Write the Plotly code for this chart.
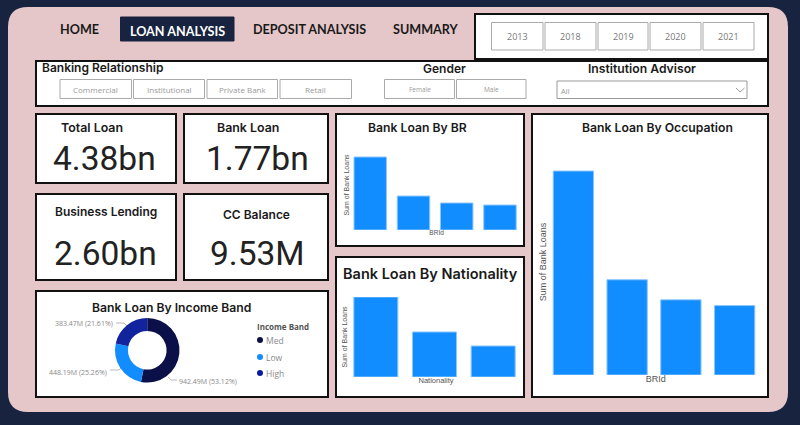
import plotly.graph_objects as go

W, H = 800, 425

# ---- data ----
nav_labels = ["HOME", "LOAN ANALYSIS", "DEPOSIT ANALYSIS", "SUMMARY"]
years = ["2013", "2018", "2019", "2020", "2021"]
relationships = ["Commercial", "Institutional", "Private Bank", "Retail"]
genders = ["Female", "Male"]
kpi_titles = ["Total Loan", "Bank Loan", "Business Lending", "CC Balance"]
kpi_values = ["4.38bn", "1.77bn", "2.60bn", "9.53M"]

br_ids = ["BR1", "BR2", "BR3", "BR4"]
br_loans = [813, 378, 301, 278]
nationalities = ["N1", "N2", "N3"]
nationality_loans = [908, 511, 352]
occupations = ["O1", "O2", "O3", "O4"]
occupation_loans = [814, 380, 300, 277]

income_bands = ["Med", "Low", "High"]
income_loans = [942.49, 448.19, 383.47]
income_pct = ["53.12%", "25.26%", "21.61%"]
income_colors = ["#0B1048", "#118DFF", "#12239E"]

NAVY = "#18233F"
PINK = "#E6C7C9"
BLUE = "#118DFF"
GREY = "#8A8A8A"
INK = "#1A1A1A"


def px(x):
    return x / W


def py(y):
    return 1 - y / H


shapes = []
annotations = []


def rect(x0, y0, x1, y1, fill="white", line="#111111", width=2):
    shapes.append(dict(type="rect", xref="paper", yref="paper", layer="below",
                       x0=px(x0), x1=px(x1), y0=py(y1), y1=py(y0),
                       fillcolor=fill, line=dict(color=line, width=width)))


def path(points, color="#BBBBBB", width=1):
    d = "M " + " L ".join(f"{px(a):.5f},{py(b):.5f}" for a, b in points)
    shapes.append(dict(type="path", xref="paper", yref="paper", layer="below", path=d,
                       line=dict(color=color, width=width)))


def text(s, x, y, size, color=INK, family="Inter", weight=400, anchor="center"):
    annotations.append(dict(text=s, x=px(x), y=py(y), xref="paper", yref="paper",
                            xanchor=anchor, yanchor="middle", showarrow=False,
                            borderpad=0, borderwidth=0,
                            font=dict(family=family, size=size, color=color, weight=weight)))


# ---- page ----
r = 20
L, T, R, B = 8, 7, 788, 412
page = (f"M {px(L + r)},{py(T)} L {px(R - r)},{py(T)} Q {px(R)},{py(T)} {px(R)},{py(T + r)} "
        f"L {px(R)},{py(B - r)} Q {px(R)},{py(B)} {px(R - r)},{py(B)} "
        f"L {px(L + r)},{py(B)} Q {px(L)},{py(B)} {px(L)},{py(B - r)} "
        f"L {px(L)},{py(T + r)} Q {px(L)},{py(T)} {px(L + r)},{py(T)} Z")
shapes.append(dict(type="path", xref="paper", yref="paper", layer="below", path=page,
                   fillcolor=PINK, line=dict(width=0)))

# ---- navigation ----
rect(120.5, 17, 234, 41, fill=NAVY, line=NAVY, width=1)
for label, x, y, col in zip(nav_labels, [79, 177.5, 309, 425], [29, 31, 29, 29],
                            [INK, "white", INK, INK]):
    text(label, x, y, 12.6, color=col, family="Lato", weight=700)

# ---- year slicer ----
rect(475, 14, 768, 59)
for label, x0, x1 in zip(years, [491.5, 545, 598, 650, 703], [543, 596, 648, 701, 754]):
    rect(x0, 22.5, x1, 50, line="#AAAAAA", width=1)
    text(label, (x0 + x1) / 2, 36.5, 9, color="#777777", family="Open Sans")

# ---- filter strip ----
rect(36, 61, 768, 106)
text("Banking Relationship", 42, 67, 12, family="Inter", weight=600, anchor="left")
text("Gender", 444, 68, 12, family="Inter", weight=600)
text("Institution Advisor", 642, 68, 12.2, family="Inter", weight=600)
for label, x0, x1 in zip(relationships, [60, 133.5, 207, 280], [131.5, 204.5, 277.5, 351.5]):
    rect(x0, 79.5, x1, 98.5, line="#AAAAAA", width=1)
    text(label, (x0 + x1) / 2, 89, 8, color="#999999", family="Open Sans")
for label, x0, x1 in zip(genders, [384.5, 456.5], [454.5, 526]):
    rect(x0, 79.5, x1, 98.5, line="#AAAAAA", width=1)
    text(label, (x0 + x1) / 2, 89, 6.5, color="#999999", family="Open Sans")
rect(557, 81, 747, 98.5, line="#999999", width=1)
text("All", 561, 91, 7.5, color="#999999", family="Open Sans", anchor="left")
path([(736, 88), (740, 92), (744.5, 88)], color="#999999")

# ---- KPI cards ----
kpi_boxes = [(36, 114, 176, 183), (184, 114, 328, 183), (36, 194, 176, 280), (184, 194, 328, 280)]
kpi_title_pos = [(92, 127), (248, 127), (106, 211), (256, 214)]
kpi_title_size = [12.4, 12.4, 12, 12]
kpi_value_pos = [(104, 158), (257, 158), (105, 253), (257, 253)]
for box in kpi_boxes:
    rect(*box)
for s, p, z in zip(kpi_titles, kpi_title_pos, kpi_title_size):
    text(s, p[0], p[1], z, family="Inter", weight=600)
for s, p in zip(kpi_values, kpi_value_pos):
    text(s, p[0], p[1], 33.5, family="Roboto", color="#222222")

# ---- panels ----
rect(36, 291, 328, 397)
rect(336, 114, 524, 246)
rect(336, 257, 524, 397)
rect(532, 114, 768, 397)
text("Bank Loan By BR", 417, 127, 12.2, family="Inter", weight=600)
text("Bank Loan By Nationality", 431, 273, 14.5, family="Inter", weight=600)
text("Bank Loan By Occupation", 657.5, 127, 12.2, family="Inter", weight=600)
text("Bank Loan By Income Band", 171, 307, 12.2, family="Inter", weight=600)

fig = go.Figure()


def add_bars(idx, cats, vals, box, headroom, xtitle, ytitle, ysize, xsize, shift):
    x0, x1, top, bottom = box
    pitch = (x1 - x0) / len(cats)
    xa, ya = f"xaxis{idx}", f"yaxis{idx}"
    fig.add_trace(go.Bar(x=cats, y=vals, xaxis=f"x{idx}", yaxis=f"y{idx}", width=0.75,
                         marker=dict(color=BLUE, line=dict(color="#8CC6FF", width=1)),
                         showlegend=False))
    fig.update_layout({
        xa: dict(domain=[px(x0 + shift), px(x1)], anchor=f"y{idx}", showticklabels=False,
                 showgrid=False, zeroline=False, ticks="", showline=False,
                 range=[-0.5 + shift / pitch, len(cats) - 0.5],
                 title=dict(text=xtitle, standoff=0,
                            font=dict(size=xsize, color="#555555", family="Liberation Sans"))),
        ya: dict(domain=[py(bottom), py(top)], anchor=f"x{idx}", range=[0, max(vals) * headroom],
                 showticklabels=False, showgrid=False, zeroline=False, ticks="", showline=False,
                 title=dict(text=ytitle, standoff=0,
                            font=dict(size=ysize, color="#555555", family="Liberation Sans"))),
    })


add_bars(2, br_ids, br_loans, (348.6, 521.6, 140, 230), 90 / 73, "BRId", "Sum of Bank Loans", 7, 6.5, 3)
add_bars(3, nationalities, nationality_loans, (346.5, 522.5, 297, 377), 1.0, "Nationality", "Sum of Bank Loans", 7, 7.5, 3)
add_bars(4, occupations, occupation_loans, (546.5, 761.5, 149, 375), 226 / 204, "BRId", "Sum of Bank Loans", 9, 9, 3.5)

# ---- donut ----
fig.add_trace(go.Pie(labels=income_bands, values=income_loans, hole=0.6, sort=False,
                     direction="clockwise", rotation=0, textinfo="none", showlegend=False,
                     marker=dict(colors=income_colors, line=dict(width=0)),
                     domain=dict(x=[px(115), px(179.5)], y=[py(382.5), py(318)])))

for band, v, pct, pos, anchor in zip(income_bands, income_loans, income_pct,
                                     [(179, 381), (107, 372), (113, 323)],
                                     ["left", "right", "right"]):
    text(f"{v:.2f}M ({pct})", pos[0], pos[1], 7, color=GREY, family="Open Sans", anchor=anchor)
path([(168, 377), (171, 380), (177, 380)])
path([(110, 370), (119, 370), (121, 368)])
path([(116, 323), (124, 323), (127, 326)])

text("Income Band", 257, 326, 8, color="#555555", family="Open Sans", weight=700, anchor="left")
for band, col, y in zip(income_bands, ["#0B1048", BLUE, "#0A1A9E"], [340, 357, 373]):
    shapes.append(dict(type="circle", xref="paper", yref="paper", layer="below",
                       x0=px(257), x1=px(263), y0=py(y + 3), y1=py(y - 3),
                       fillcolor=col, line=dict(width=0)))
    text(band, 266, y, 8.5, color=GREY, family="Open Sans", anchor="left")

fig.update_layout(width=W, height=H, margin=dict(l=0, r=0, t=0, b=0),
                  paper_bgcolor=NAVY, plot_bgcolor="rgba(0,0,0,0)",
                  shapes=shapes, annotations=annotations)

fig.write_html("out.html", config={"displayModeBar": False},
               post_script="document.body.style.margin='0';document.body.style.overflow='hidden';")
